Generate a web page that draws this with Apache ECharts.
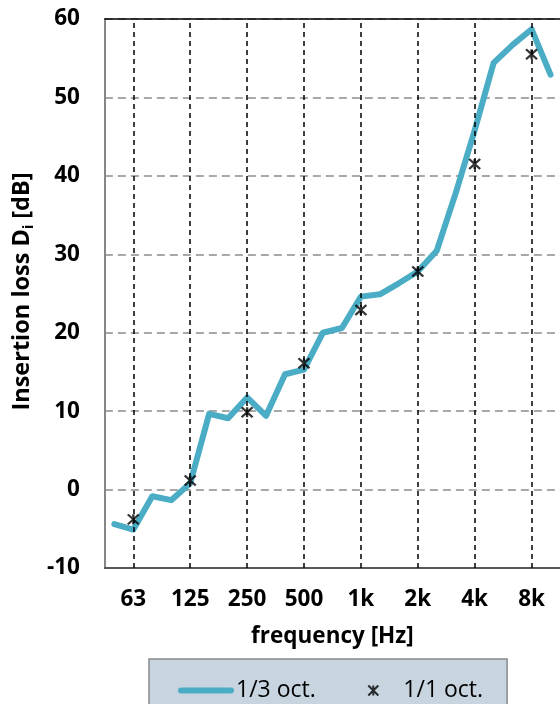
<!DOCTYPE html>
<html>
<head>
<meta charset="utf-8">
<script src="https://cdn.jsdelivr.net/npm/echarts@6/dist/echarts.min.js"></script>
<style>html,body{margin:0;padding:0;background:#fff}#c{width:560px;height:704px}</style>
</head>
<body>
<div id="c"></div>
<script>
// 1/3-octave band centre frequencies
const bands = ['50','63','80','100','125','160','200','250','315','400','500','630','800','1k','1.25k','1.6k','2k','2.5k','3.15k','4k','5k','6.3k','8k','10k'];
// insertion loss per 1/3 octave [dB]
const thirdOct = [-4.4,-5.1,-0.85,-1.35,0.8,9.65,9.1,11.75,9.4,14.7,15.3,20.0,20.6,24.6,24.9,26.3,27.8,30.45,37.8,45.8,54.4,56.7,58.7,52.9];
// octave bands and insertion loss per 1/1 octave [dB]
const octBands = ['63','125','250','500','1k','2k','4k','8k'];
const octValues = [-3.8,1.15,9.85,16.1,22.9,27.8,41.5,55.5];
const yTicks = [-10,0,10,20,30,40,50,60];

const octIdx = octBands.map(b => bands.indexOf(b));
const lineData = thirdOct.map((v, i) => [i, v]);
const octData = octValues.map((v, i) => [octIdx[i], v]);

const FONT = 'Open Sans';
const chart = echarts.init(document.getElementById('c'), null, {renderer: 'canvas'});
chart.setOption({
  animation: false,
  backgroundColor: '#fff',
  grid: {left: 104.5, right: -4, top: 19, bottom: 136, containLabel: false},
  xAxis: [{
    type: 'value', min: -0.5, max: bands.length - 0.5, position: 'bottom',
    name: 'frequency [Hz]', nameLocation: 'middle', nameGap: 57,
    nameTextStyle: {fontFamily: FONT, fontSize: 22.5, fontWeight: 'bold', color: '#000'},
    axisLine: {show: true, onZero: false, lineStyle: {color: '#595959', width: 2}},
    axisTick: {show: false},
    splitLine: {show: false},
    axisLabel: {
      customValues: octIdx, margin: 20,
      fontFamily: FONT, fontSize: 22.5, fontWeight: 'bold', color: '#000',
      formatter: v => octBands[octIdx.indexOf(Math.round(v))] || ''
    }
  }, {
    type: 'value', min: -0.5, max: bands.length - 0.5, position: 'top',
    axisLine: {show: true, onZero: false, lineStyle: {color: '#000', width: 1.5}},
    axisTick: {show: false}, axisLabel: {show: false}, splitLine: {show: false}
  }],
  yAxis: {
    type: 'value', min: yTicks[0], max: yTicks[yTicks.length - 1], interval: 10,
    name: 'Insertion loss D{sub|i} [dB]', nameLocation: 'middle', nameGap: 67, nameRotate: 90,
    nameTextStyle: {fontFamily: FONT, fontSize: 23.5, fontWeight: 'bold', color: '#000', lineHeight: 28, padding: [0, 0, 0, 4],
      rich: {sub: {fontFamily: FONT, fontSize: 14, fontWeight: 'bold', color: '#000', verticalAlign: 'bottom', lineHeight: 15}}},
    axisLine: {show: true, onZero: false, lineStyle: {color: '#868686', width: 2}},
    axisTick: {show: false},
    axisLabel: {margin: 25, fontFamily: FONT, fontSize: 22.5, fontWeight: 'bold', color: '#000'},
    splitLine: {show: true, lineStyle: {color: '#8c8c8c', width: 1.5, type: [8, 5]}}
  },
  legend: {
    left: 149, top: 659, orient: 'horizontal',
    itemWidth: 50, itemHeight: 10, itemGap: 50,
    padding: [20, 24, 30, 29],
    backgroundColor: '#C8D5E0', borderColor: '#8a8a8a', borderWidth: 1.5, borderRadius: 0,
    textStyle: {fontFamily: FONT, fontSize: 23, color: '#000'},
    data: [
      {name: '1/3 oct.', itemStyle: {opacity: 0}, lineStyle: {width: 6, cap: 'round', color: '#4BACC6'}},
      {name: '1/1 oct.'}
    ]
  },
  series: [{
    name: 'grid', type: 'line', data: [], z: 1, silent: true,
    markLine: {
      silent: true, symbol: 'none', animation: false,
      label: {show: false},
      lineStyle: {color: '#000', width: 1.5, type: [5, 4]},
      data: octIdx.map(i => ({xAxis: i}))
    }
  }, {
    name: '1/3 oct.', type: 'line', data: lineData, z: 3,
    symbol: 'none', smooth: false,
    lineStyle: {color: '#4BACC6', width: 6, cap: 'round', join: 'round'},
    itemStyle: {color: '#4BACC6'}
  }, {
    name: '1/1 oct.', type: 'scatter', data: octData, z: 4,
    symbol: 'path://M0,0L10,10M10,0L0,10M5,0L5,10', symbolSize: [11, 10],
    itemStyle: {color: 'none', borderColor: '#000', borderWidth: 2.2}
  }]
});
</script>
</body>
</html>
